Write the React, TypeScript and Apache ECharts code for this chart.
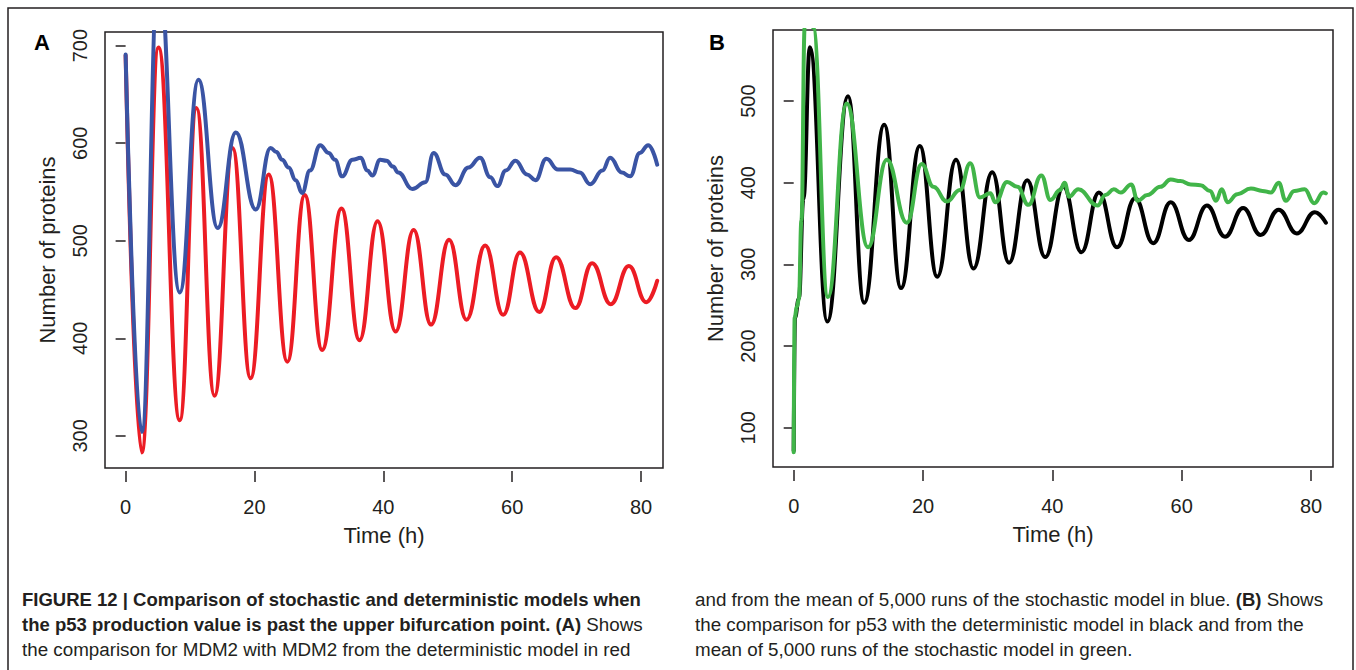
import React, { useEffect, useRef } from "react";
import * as echarts from "echarts";

// ---- data (time in hours, number of proteins) ----
const xTicks = [0, 20, 40, 60, 80];
const yTicksA = [300, 400, 500, 600, 700];
const yTicksB = [100, 200, 300, 400, 500];

const mdm2Deterministic: [number, number][] = [
  [0, 690], [2.5, 283], [5.1, 698], [8.4, 316], [11, 636], [13.8, 341], [16.6, 595],
  [19.4, 359], [22.2, 568], [25.1, 376], [27.8, 547], [30.5, 388], [33.5, 533],
  [36.3, 398], [39.1, 520], [41.9, 407], [44.7, 511], [47.4, 414], [50.2, 501],
  [52.9, 419], [55.8, 495], [58.6, 424], [61.2, 488], [64.2, 427], [66.8, 483],
  [69.8, 431], [72.4, 477], [75.3, 435], [78.1, 474], [80.8, 437], [82.5, 459],
];

const mdm2Stochastic: [number, number][] = [
  [0, 691], [2.5, 304], [5.1, 780], [8.4, 447], [11.3, 665], [14.3, 513], [17.1, 611],
  [20.2, 532], [22.5, 595], [23.4, 591], [24.3, 583], [25.3, 575], [26.4, 562],
  [27.4, 549], [28.6, 572], [30.2, 598], [31.5, 590], [32.5, 583], [33.6, 566],
  [35.2, 583], [36.5, 585], [37.5, 572], [38.3, 567], [39.5, 583], [40.5, 582],
  [41.5, 576], [42.3, 570], [44.5, 553], [46.5, 560], [47.8, 590], [49.6, 568],
  [51.2, 557], [53.2, 575], [55, 585], [56.6, 565], [57.7, 556], [59, 572],
  [60.5, 582], [62.3, 568], [63.6, 562], [65.3, 584], [67.1, 573], [69, 573],
  [70.5, 570], [72.1, 558], [74, 572], [75.2, 585], [77, 570], [78.3, 566],
  [79.8, 590], [81.1, 598], [82.5, 578],
];

const p53Deterministic: [number, number][] = [
  [0, 72], [0.2, 235], [0.8, 258], [1.5, 380], [2.5, 566], [5.2, 230], [8.4, 506],
  [10.9, 253], [14, 471], [16.6, 271], [19.5, 445], [22.2, 285], [25.1, 428],
  [27.8, 295], [30.7, 413], [33.3, 302], [36.1, 403], [38.9, 309], [41.7, 395],
  [44.5, 315], [47.2, 388], [50, 321], [52.8, 381], [55.6, 326], [58.3, 376],
  [61.1, 330], [63.9, 372], [66.7, 334], [69.5, 369], [72.2, 336], [75, 367],
  [77.8, 338], [80.6, 364], [82.3, 351],
];

const p53Stochastic: [number, number][] = [
  [0, 70], [0.15, 235], [0.5, 248], [0.8, 258], [1.2, 354], [1.7, 590], [2.5, 640],
  [3.0, 590], [5.3, 260], [8.2, 497], [11.5, 321], [14.4, 428], [17.5, 351],
  [19.8, 423], [21.6, 395], [23.7, 377], [25.7, 391], [27.3, 424], [28.8, 382],
  [30.4, 387], [31.2, 376], [33, 401], [34.6, 395], [36.3, 373], [38.3, 409],
  [39.7, 379], [41.2, 391], [41.9, 400], [42.6, 383], [44, 392], [47, 372],
  [48.2, 385], [49.5, 392], [50.6, 388], [52.2, 398], [53.2, 378], [54.7, 385],
  [56.7, 395], [58.3, 404], [59.8, 402], [61.4, 398], [62.9, 397], [64.4, 390],
  [65.3, 378], [66.2, 392], [67.1, 376], [68.6, 386], [70.7, 393], [72.5, 390],
  [73.8, 388], [75, 400], [76.1, 378], [77.4, 390], [79, 392], [80.5, 375],
  [81.9, 388], [82.3, 387],
];

const captionLeft = [
  "FIGURE 12 | Comparison of stochastic and deterministic models when",
  "the p53 production value is past the upper bifurcation point. (A)",
  "the comparison for MDM2 with MDM2 from the deterministic model in red",
];
const captionRight = [
  "and from the mean of 5,000 runs of the stochastic model in blue. ",
  "the comparison for p53 with the deterministic model in black and from the",
  "mean of 5,000 runs of the stochastic model in green.",
];

const FONT = "'Liberation Sans', Arial, Helvetica, sans-serif";
const INK = "#231f20";
const CAP_BOLD = 18.5;
const CAP_REG = 18.8;

function makeX(gridIndex: number) {
  return {
    type: "value",
    gridIndex,
    min: -3.2,
    max: 83.4,
    offset: 3,
    axisLine: { show: false },
    axisTick: { show: true, length: 11, customValues: xTicks, lineStyle: { color: INK, width: 1.5 } },
    axisLabel: { customValues: xTicks, margin: 26, fontSize: 20, color: INK, fontFamily: FONT },
    splitLine: { show: false },
    name: "Time (h)",
    nameLocation: "middle",
    nameGap: 53,
    nameTextStyle: { fontSize: 22, color: INK, fontFamily: FONT },
  };
}

function makeY(gridIndex: number, min: number, max: number, ticks: number[]) {
  return {
    type: "value",
    gridIndex,
    min,
    max,
    offset: 1,
    axisLine: { show: false },
    axisTick: { show: true, length: 10, customValues: ticks, lineStyle: { color: INK, width: 1.5 } },
    axisLabel: { customValues: ticks, rotate: 90, margin: 14, fontSize: 20, color: INK, fontFamily: FONT },
    splitLine: { show: false },
    name: "Number of proteins",
    nameLocation: "middle",
    nameGap: 46,
    nameTextStyle: { fontSize: 22, color: INK, fontFamily: FONT },
  };
}

function line(data: [number, number][], color: string, idx: number, z: number) {
  return {
    type: "line",
    xAxisIndex: idx,
    yAxisIndex: idx,
    data,
    symbol: "none",
    smooth: 0.45,
    smoothMonotone: "x",
    clip: true,
    z,
    lineStyle: { color, width: 4, cap: "round", join: "round" },
  };
}

export default function App() {
  const ref = useRef<HTMLDivElement>(null);
  useEffect(() => {
    if (!ref.current) return;
    const chart = echarts.init(ref.current, undefined, { renderer: "svg" });
    const capText = (x: number, y: number, text: string, bold = false) => ({
      type: "text",
      x,
      y,
      style: {
        text,
        fontSize: bold ? CAP_BOLD : CAP_REG,
        fontFamily: FONT,
        fontWeight: bold ? "bold" : "normal",
        fill: INK,
        textVerticalAlign: "middle",
      },
    });
    const rich = {
      b: { fontSize: CAP_BOLD, fontFamily: FONT, fontWeight: "bold", fill: INK },
      r: { fontSize: CAP_REG, fontFamily: FONT, fontWeight: "normal", fill: INK },
    };
    chart.setOption({
      animation: false,
      backgroundColor: "#ffffff",
      grid: [
        { left: 105, top: 32, width: 558, height: 436, show: true, borderColor: INK, borderWidth: 1.5, backgroundColor: "transparent" },
        { left: 773, top: 30, width: 560, height: 437, show: true, borderColor: INK, borderWidth: 1.5, backgroundColor: "transparent" },
      ],
      xAxis: [makeX(0), makeX(1)],
      yAxis: [makeY(0, 267, 714, yTicksA), makeY(1, 52, 587, yTicksB)],
      series: [
        line(mdm2Deterministic, "#ec1c24", 0, 2),
        line(mdm2Stochastic, "#3a54a4", 0, 3),
        line(p53Deterministic, "#000000", 1, 2),
        line(p53Stochastic, "#41b549", 1, 3),
      ],
      graphic: [
        { type: "rect", shape: { x: 8, y: 8, width: 1345, height: 720 }, style: { fill: "none", stroke: INK, lineWidth: 1.5 } },
        { type: "text", x: 42, y: 42, style: { text: "A", fontSize: 22, fontWeight: "bold", fontFamily: FONT, fill: "#000", textAlign: "center", textVerticalAlign: "middle" } },
        { type: "text", x: 717, y: 42, style: { text: "B", fontSize: 22, fontWeight: "bold", fontFamily: FONT, fill: "#000", textAlign: "center", textVerticalAlign: "middle" } },
        capText(22, 599, captionLeft[0], true),
        {
          type: "text",
          x: 22,
          y: 624,
          style: {
            text: "{b|" + captionLeft[1] + "}{r| Shows}",
            fontSize: CAP_REG,
            fontFamily: FONT,
            fill: INK,
            textVerticalAlign: "middle",
            rich,
          },
        },
        capText(22, 649, captionLeft[2]),
        {
          type: "text",
          x: 695,
          y: 599,
          style: {
            text: "{r|" + captionRight[0] + "}{b|(B)}{r| Shows}",
            fontSize: CAP_REG,
            fontFamily: FONT,
            fill: INK,
            textVerticalAlign: "middle",
            rich,
          },
        },
        capText(695, 624, captionRight[1]),
        capText(695, 649, captionRight[2]),
      ],
    });
    return () => chart.dispose();
  }, []);
  return (
    <div
      ref={ref}
      style={{ position: "fixed", left: 0, top: 0, width: 1356, height: 670, background: "#fff" }}
    />
  );
}
